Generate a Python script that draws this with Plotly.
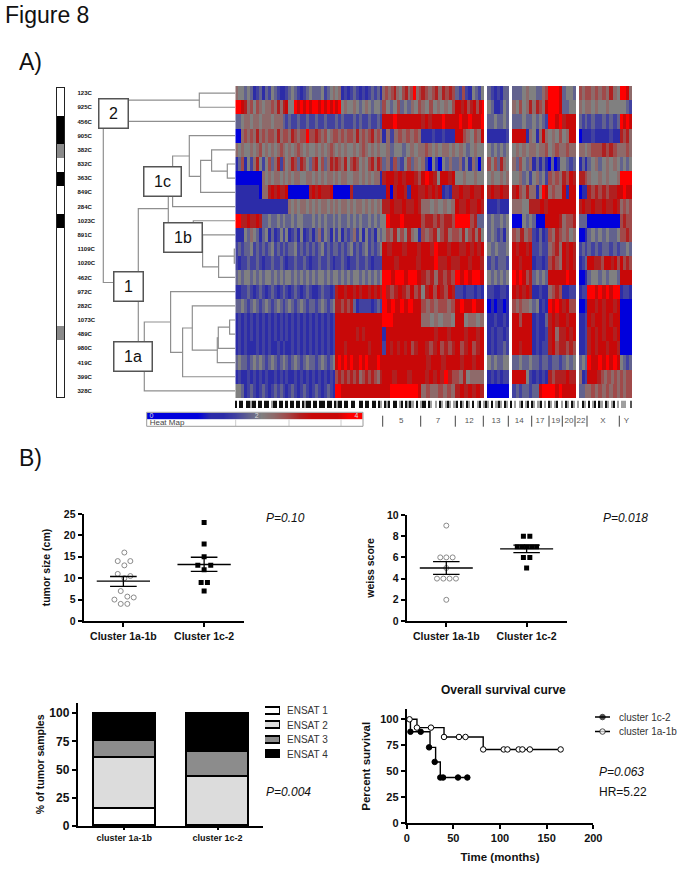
import numpy as np
import plotly.graph_objects as go

W, H = 683, 871
FONT = "Liberation Sans, Arial, sans-serif"

# ---------- heat map data (0 = blue, 4 = grey, 9 = bright red) ----------
samples = ["123C","925C","456C","905C","382C","832C","363C","849C","284C","1023C","891C",
           "1109C","1020C","462C","972C","282C","1073C","489C","980C","419C","399C","328C"]
# genome blocks, in heat-map bins
block_edges = [(235,382),(382,421),(421,455),(455,484),(487,509),(512,532),(532,548),
               (548,562),(562,576),(579,587),(587,620),(620,632)]
heat_rows = [
 "54434312313243211234321234333423454512123212123231|56567546756956|7656757676|326214324|3212133|333454|43356|9998|3443|656|656565754|9985",
 "99875646545565757844989898998989898945445434543443|64346343546|546454546|8878678689|4311243|546457|57658|9998|3344|545|545445444|4432",
 "33455455455545553232232232232232223232223232232232|88898888888|7878889888|898898889|3343343|333433|43432|9989|7888|323|232232323|9898",
 "00565657565665756657656696676564566565665756567565|1525656565|1112112111|88654658|1111112|888815|41585|4546|4588|011|121111211|7675",
 "54544545645454565454565454454545654545445456545454|4534434545|5654545545|45434544|4343434|454545|54556|4565|5655|554|566676765|5565",
 "13614257424635726457637643674635767657467645467576|35263246354|5204204353|352415304|6463754|536435|13131|03014|4323|131|345345454|3434",
 "00000000054545545454554455454545545455445545454551|7887878876|898748878|44544544|4544545|445342|45342|6565|7687|776|544545445|9999",
 "11111111055787877800000007878777800000071111111111|18078871887|7878781217|78778778|7877877|786575|51598|5655|8188|011|767676778|8988",
 "11111111111111111154545545454554545455454554545454|7787787787|55454545|87787787|1112111|555447|7787|8888|888|787|787787787|5656",
 "99778778733433434334344333434343343433434343343434|49888988888|677676776|99996733|3433434|000434|30008|8887|5667|333|0000000000|6766",
 "11143543134131242412314123135243142413235241423143|46574647541|656746756|657467574|3432314|65756|21312|6576|5645|001|343434334|6676",
 "23233423232342323233423232323423233232342323423234|87887887|88798878|87787878|434334|878878|22322|5675|8787|232|323233232|3343",
 "21223223212232232122322321223223212232122322321222|8878887|88897787|7887887|232332|887888|12212|6765|8787|123|8877688786|8676",
 "34344343434434343443434343434434344343434434343434|998998998|76757676|9898998|4343434|989867|34343|8888|8988|001|344343443|8888",
 "11223212321232123212321232112322127887887878878787|9767876867|478687687|22122121|2211221|878787|11211|5676|1122|122|998989899|1221",
 "33432343234323432343234323323432347767673122221232|989898988|65656656|8988988|0101101|656554|34121|9898|7866|001|887878878|0000",
 "12121212121212121212121212121212128888888888888888|99988888888|55454554|8845545|1121121|886888|12113|7878|8788|112|878878788|0000",
 "12121212121212121212121212121212128888888787888888|18888888888|88878878|8878878|1212212|888888|12112|7857|7878|112|787878878|0000",
 "12121112121211212112121212121212128887888888878888|28787878678|876786767|8678678|1212232|887888|12122|7867|7676|112|787887887|0000",
 "34332343432343234323432343323432348989898898988898|88888888|8788788|8788788|4343344|334334|33233|2332|3434|343|988989898|4323",
 "12112121212112121211212121212121216767676756767657|88788788|878787976|65745555|1212122|888842|12121|7677|7877|512|8887656565|6566",
 "44312321232123232123212321232123219988888888888888|88999999998|56556565|7878787|0000000|232332|33899|9989|8888|335|565656565|6566",
]
heat_colors = [[0/9,"#0000dc"],[1/9,"#2c2ca8"],[2/9,"#4242a0"],[3/9,"#62628e"],[4/9,"#808080"],
               [5/9,"#8e6a6a"],[6/9,"#a04a4a"],[7/9,"#b02020"],[8/9,"#c80808"],[1,"#ff0000"]]

# ---------- dendrogram: (child, child, distance); leaves are 0..21, nodes continue from 22 ----------
dendro_merges = [(0,1,36),(22,2,121),(5,6,8),(4,24,23.7),(25,7,34.7),(3,26,46),(27,8,62.7),
                 (11,12,1),(29,13,16.7),(10,30,32.7),(9,31,42),(28,32,67),(16,17,5.7),(34,18,17),
                 (35,19,18),(15,36,43),(37,20,52.7),(14,38,64.7),(39,21,91),(33,40,97),(23,41,132)]
box_labels = ["2","1c","1b","1","1a"]
box_dist = [121.6,73.3,52.8,106.6,102.1]
box_row = [1.45,6.22,10.18,13.65,18.56]
box_w = [28,36,37,28,37]
box_h = [28,28,28,28,28]

ensat_strip = [0,0,2,2,1,0,2,0,0,2,0,0,0,0,0,0,0,1,0,0,0,0]
band_strip = ("0300300200300300320030030300300302003003000300302003003003300300300"
              "3023020300320302023032003023230232023203023023032032023032023023032"
              "3203203023203230232032302302323023032030230232032322331")
color_levels = [0,0,0,0,0,1,1,2,3,4,5,6,7,8,8,8,9,9]
colorbar_ticks = [235.7,289,341]
chrom_labels = ["5","7","12","13","14","17","19","20","22","X","Y"]
chrom_centres = [401.3,438,469.3,496,519.3,540,555.7,569,581,603,626.3]
chrom_bounds = [382.7,420.7,455.3,483.3,508.3,531.7,549,562.3,575,587,619.3]

# ---------- tumour size ----------
cluster_names = ["Cluster 1a-1b","Cluster 1c-2"]
size_a_x = [0.012,-0.07,0.086,0.012,-0.07,0.086,0.012,-0.033,0.049,0.128,-0.111,-0.033,0.049]
size_a_y = [16,14,14,13,11,10.5,10,7,5.7,5.5,5,4,4]
size_b_x = [1,1,1,0.922,1.082,1,0.963,1.041,1]
size_b_y = [23,18,15,13,13,12,9,9,7]
size_mean = [9.3,13.2]
size_low = [8.1,11.6]
size_high = [10.4,14.9]
# ---------- Weiss score ----------
weiss_a_x = [0,-0.075,0,0.079,-0.116,-0.037,0.041,0.12,0,0]
weiss_a_y = [9,6,6,6,4,4,4,4,5,2]
weiss_b_x = [0.96,1.04,0.884,0.946,1,1.062,1.124,0.96,1.04,1]
weiss_b_y = [8,8,7,7,7,7,7,6,6,5]
weiss_mean = [5.0,6.8]
weiss_low = [4.4,6.45]
weiss_high = [5.6,7.15]
# ---------- ENSAT stacked bars ----------
stack_groups = ["cluster 1a-1b","cluster 1c-2"]
ensat_names = ["ENSAT 1","ENSAT 2","ENSAT 3","ENSAT 4"]
ensat_values = [[15,0],[46,44],[15,22],[24,34]]
ensat_colors = ["#ffffff","#dcdcdc","#8c8c8c","#000000"]
# ---------- survival ----------
surv_names = ["cluster 1c-2","cluster 1a-1b"]
c1_step_t = [0,4,25,31,36,65]
c1_step_s = [100,88,73,59,44,44]
c1_mark_t = [4,15,24,30,36,39,55,65]
c1_mark_s = [88,88,73,59,44,44,44,44]
a1_step_t = [0,11,40,82,165]
a1_step_s = [100,92,83,71,71]
a1_mark_t = [3,11,26,40,56,63,82,104,108,120,124,132,165]
a1_mark_s = [100,92,92,83,83,83,71,71,71,71,71,71,71]

# ---------- build heat matrix ----------
def row_values(text):
    out = []
    blocks = text.split("|")
    for i, (a, b) in enumerate(block_edges):
        s = blocks[i]
        n = b - a
        idx = (np.arange(n) * len(s) / n).astype(int)
        out.append([int(s[j]) for j in idx])
    return out

x_bins = np.arange(235, 632) + 0.5
z = []
for r in heat_rows:
    parts = row_values(r)
    line = [None] * len(x_bins)
    for (a, b), vals in zip(block_edges, parts):
        for k, v in zip(range(a, b), vals):
            line[k - 235] = v
    z.append(line)

fig = go.Figure()

def xd(a, b): return [a / W, b / W]
def yd(a, b): return [1 - b / H, 1 - a / H]
def hidden(**kw): return dict(visible=False, fixedrange=True, **kw)

lay = {}
# heat map
fig.add_trace(go.Heatmap(z=z, x=x_bins, y=list(range(22)), zmin=0, zmax=9, colorscale=heat_colors,
                         showscale=False, xaxis="x", yaxis="y", hoverongaps=False))
lay["xaxis"] = hidden(domain=xd(235.3, 632), range=[235, 632], anchor="y")
lay["yaxis"] = hidden(domain=yd(86, 398), range=[21.5, -0.5], anchor="x")

# dendrogram
pos = {i: i for i in range(22)}
hgt = {i: 0 for i in range(22)}
dx, dy = [], []
for n, (a, b, d) in enumerate(dendro_merges):
    nid = 22 + n
    pos[nid] = (pos[a] + pos[b]) / 2
    hgt[nid] = d
    dx += [hgt[a], d, d, hgt[b], None]
    dy += [pos[a], pos[a], pos[b], pos[b], None]
fig.add_trace(go.Scatter(x=dx, y=dy, mode="lines", line=dict(color="#8f8f8f", width=1.2),
                         xaxis="x2", yaxis="y2", showlegend=False))
lay["xaxis2"] = hidden(domain=xd(95, 235.3), range=[140.3, 0], anchor="y2")
lay["yaxis2"] = dict(domain=yd(86, 398), range=[21.5, -0.5], anchor="free", position=76.5 / W, side="right",
                     tickmode="array", tickvals=list(range(22)), ticktext=samples,
                     tickfont=dict(family=FONT, size=6, color="#111", weight="bold"), ticks="", showgrid=False,
                     zeroline=False, showline=False, fixedrange=True)

# ENSAT strip
fig.add_trace(go.Heatmap(z=[[v] for v in ensat_strip], zmin=0, zmax=2, x=[0], y=list(range(22)),
                         colorscale=[[0, "#ffffff"], [0.5, "#8a8a8a"], [1, "#000000"]], showscale=False,
                         xaxis="x3", yaxis="y3"))
lay["xaxis3"] = dict(domain=xd(56.5, 64), range=[-0.5, 0.5], anchor="y3", showline=True, mirror=True,
                     linecolor="#222", linewidth=1, showticklabels=False, ticks="", showgrid=False, zeroline=False)
lay["yaxis3"] = dict(domain=yd(88.3, 396.7), range=[21.5, -0.5], anchor="x3", showline=True, mirror=True,
                     linecolor="#222", linewidth=1, showticklabels=False, ticks="", showgrid=False, zeroline=False)

# band strip
band_vals = [int(c) for c in band_strip]
fig.add_trace(go.Heatmap(z=[band_vals], zmin=0, zmax=3, showscale=False,
                         colorscale=[[0, "#101010"], [0.33, "#555555"], [0.67, "#a0a0a0"], [1, "#ffffff"]],
                         xaxis="x4", yaxis="y4"))
lay["xaxis4"] = hidden(domain=xd(235, 632), range=[-0.5, len(band_vals) - 0.5], anchor="y4")
lay["yaxis4"] = hidden(domain=yd(400.5, 408), range=[-0.5, 0.5], anchor="x4")

# colour bar
fig.add_trace(go.Heatmap(z=[color_levels], zmin=0, zmax=9, colorscale=heat_colors, showscale=False,
                         zsmooth="best", xaxis="x5", yaxis="y5"))
lay["xaxis5"] = hidden(domain=xd(147, 362.5), range=[0, len(color_levels) - 1], anchor="y5")
lay["yaxis5"] = hidden(domain=yd(412.7, 419.3), range=[-0.5, 0.5], anchor="x5")

# chromosome ticks / labels + colour-bar ticks share a px-like genome axis
lay["xaxis6"] = hidden(domain=[0, 1], range=[0, W], anchor="y6")
lay["yaxis6"] = hidden(domain=[0, 1], range=[H, 0], anchor="x6")
tx, ty = [], []
for b in chrom_bounds:
    tx += [b, b, None]; ty += [415.7, 426.7, None]
fig.add_trace(go.Scatter(x=tx, y=ty, mode="lines", line=dict(color="#444", width=1), xaxis="x6", yaxis="y6",
                         showlegend=False))
fig.add_trace(go.Scatter(x=chrom_centres, y=[420.5] * len(chrom_centres), text=chrom_labels, mode="text",
                         textfont=dict(family=FONT, size=8, color="#555"), xaxis="x6", yaxis="y6", showlegend=False))
tx, ty = [], []
for b in colorbar_ticks:
    tx += [b, b, None]; ty += [419.5, 426, None]
fig.add_trace(go.Scatter(x=tx, y=ty, mode="lines", line=dict(color="#ccc", width=1), xaxis="x6", yaxis="y6",
                         showlegend=False))
fig.add_trace(go.Scatter(x=[146.7, 363, 363, 146.7, 146.7], y=[412.3, 412.3, 426.3, 426.3, 412.3], mode="lines",
                         line=dict(color="#9a9a9a", width=1), xaxis="x6", yaxis="y6", showlegend=False))
fig.add_trace(go.Scatter(x=[151.5, 256.7, 356.5], y=[416, 416, 416], text=["0", "2", "4"], mode="text",
                         textfont=dict(family=FONT, size=7, color="#dddddd"), xaxis="x6", yaxis="y6", showlegend=False))
fig.add_trace(go.Scatter(x=[167], y=[423], text=["Heat Map"], mode="text",
                         textfont=dict(family=FONT, size=8, color="#444"), xaxis="x6", yaxis="y6", showlegend=False))

AX = dict(showline=True, linecolor="black", linewidth=1.8, ticks="outside", ticklen=4, tickwidth=1.8,
          tickcolor="black", showgrid=False, zeroline=False, fixedrange=True)

def dot_panel(nx, ny, ax, ay, bx, by, mean, low, high):
    fig.add_trace(go.Scatter(x=ax, y=ay, mode="markers", xaxis=nx, yaxis=ny, showlegend=False,
                             marker=dict(symbol="circle", size=5, color="white", line=dict(color="#8a8a8a", width=1))))
    fig.add_trace(go.Scatter(x=bx, y=by, mode="markers", xaxis=nx, yaxis=ny, showlegend=False,
                             marker=dict(symbol="square", size=5, color="black")))
    lx, ly = [], []
    for i in range(2):
        lx += [i - .33, i + .33, None, i - .165, i + .165, None, i - .165, i + .165, None, i, i, None]
        ly += [mean[i], mean[i], None, low[i], low[i], None, high[i], high[i], None, low[i], high[i], None]
    fig.add_trace(go.Scatter(x=lx, y=ly, mode="lines", line=dict(color="black", width=1.3), xaxis=nx, yaxis=ny,
                             showlegend=False))

# tumour size
dot_panel("x7", "y7", size_a_x, size_a_y, size_b_x, size_b_y, size_mean, size_low, size_high)
lay["xaxis7"] = dict(AX, domain=xd(83.5, 244), range=[-0.494, 1.494], anchor="y7", tickmode="array", tickvals=[0, 1],
                     ticktext=cluster_names, tickfont=dict(family=FONT, size=10.5, color="#111", weight="bold"))
lay["yaxis7"] = dict(AX, domain=yd(514, 621), range=[0, 25], anchor="x7", tickvals=[0, 5, 10, 15, 20, 25],
                     tickfont=dict(family=FONT, size=10.5, color="#111", weight="bold"),
                     title=dict(text="tumor size (cm)", standoff=11, font=dict(family=FONT, size=10.5, color="#111", weight="bold")))
# Weiss
dot_panel("x8", "y8", weiss_a_x, weiss_a_y, weiss_b_x, weiss_b_y, weiss_mean, weiss_low, weiss_high)
lay["xaxis8"] = dict(AX, domain=xd(406.7, 566.7), range=[-0.493, 1.499], anchor="y8", tickmode="array", tickvals=[0, 1],
                     ticktext=cluster_names, tickfont=dict(family=FONT, size=10.5, color="#111", weight="bold"))
lay["yaxis8"] = dict(AX, domain=yd(515, 621), range=[0, 10], anchor="x8", tickvals=[0, 2, 4, 6, 8, 10],
                     tickfont=dict(family=FONT, size=10.5, color="#111", weight="bold"),
                     title=dict(text="weiss score", standoff=10, font=dict(family=FONT, size=10.5, color="#111", weight="bold")))
# stacked
for name, vals, col in zip(ensat_names, ensat_values, ensat_colors):
    fig.add_trace(go.Bar(x=[0, 1], y=vals, name=name, marker=dict(color=col, line=dict(color="black", width=1.5)),
                         width=0.665, xaxis="x9", yaxis="y9", showlegend=False))
lay["xaxis9"] = dict(AX, domain=xd(77.7, 263), range=[-0.5, 1.488], anchor="y9", tickmode="array", tickvals=[0, 1],
                     ticklen=2, ticktext=stack_groups, tickfont=dict(family=FONT, size=9, color="#111", weight="bold"))
lay["yaxis9"] = dict(AX, domain=yd(702.7, 826), range=[0, 109.4], anchor="x9", tickvals=[0, 25, 50, 75, 100],
                     tickfont=dict(family=FONT, size=12, color="#111", weight="bold"),
                     title=dict(text="% of tumor samples", standoff=3, font=dict(family=FONT, size=10.5, color="#111", weight="bold")))
# survival
fig.add_trace(go.Scatter(x=c1_step_t, y=c1_step_s, mode="lines", line=dict(color="black", width=1.4, shape="hv"),
                         xaxis="x10", yaxis="y10", showlegend=False))
fig.add_trace(go.Scatter(x=a1_step_t, y=a1_step_s, mode="lines", line=dict(color="black", width=1.4, shape="hv"),
                         xaxis="x10", yaxis="y10", showlegend=False))
fig.add_trace(go.Scatter(x=c1_mark_t, y=c1_mark_s, mode="markers", xaxis="x10", yaxis="y10", showlegend=False,
                         marker=dict(size=5.5, color="black", line=dict(color="black", width=1))))
fig.add_trace(go.Scatter(x=a1_mark_t, y=a1_mark_s, mode="markers", xaxis="x10", yaxis="y10", showlegend=False,
                         marker=dict(size=5.5, color="white", line=dict(color="black", width=1))))
lay["xaxis10"] = dict(AX, domain=xd(406.7, 593.3), range=[0, 200], anchor="y10", tickvals=[0, 50, 100, 150, 200],
                      tickfont=dict(family=FONT, size=11, color="#111", weight="bold"),
                      title=dict(text="Time (months)", standoff=10, font=dict(family=FONT, size=11.5, color="#111", weight="bold")))
lay["yaxis10"] = dict(AX, domain=yd(709.3, 823.3), range=[0, 109.6], anchor="x10", tickvals=[0, 25, 50, 75, 100],
                      tickfont=dict(family=FONT, size=11, color="#111", weight="bold"),
                      title=dict(text="Percent survival", standoff=7, font=dict(family=FONT, size=11.5, color="#111", weight="bold")))

# ENSAT key
fig.add_trace(go.Bar(x=[1, 1, 1, 1], y=ensat_names, orientation="h", xaxis="x11", yaxis="y11", showlegend=False,
                     marker=dict(color=ensat_colors, line=dict(color="black", width=1.3)), width=0.5))
lay["xaxis11"] = hidden(domain=xd(265, 280), range=[0, 1], anchor="y11")
lay["yaxis11"] = dict(domain=yd(703.5, 761.5), range=[3.5, -0.5], anchor="x11", side="right", type="category",
                      categoryorder="array", categoryarray=ensat_names, ticks="outside", ticklen=4,
                      tickcolor="rgba(0,0,0,0)", showline=False, showgrid=False, zeroline=False,
                      tickfont=dict(family=FONT, size=10, color="#333"))
# survival key
for i, (name, col) in enumerate(zip(surv_names, ["black", "white"])):
    fig.add_trace(go.Scatter(x=[0, 0.5, 1], y=[name] * 3, mode="lines+markers", xaxis="x12", yaxis="y12", showlegend=False,
                             line=dict(color="black", width=1.4),
                             marker=dict(size=[0, 5.5, 0], color=col, line=dict(color="black", width=1))))
lay["xaxis12"] = hidden(domain=xd(595, 610), range=[0, 1], anchor="y12")
lay["yaxis12"] = dict(domain=yd(709.8, 738.8), range=[1.5, -0.5], anchor="x12", side="right", type="category",
                      categoryorder="array", categoryarray=surv_names, ticks="outside", ticklen=6,
                      tickcolor="rgba(0,0,0,0)", showline=False, showgrid=False, zeroline=False,
                      tickfont=dict(family=FONT, size=10, color="#333"))

# text
anns = []
def txt(s, px, py, size, anchor="left", color="#111", italic=False, bold=False):
    anns.append(dict(text=s, x=px / W, y=1 - py / H, xref="paper", yref="paper", xanchor=anchor, yanchor="middle",
                     showarrow=False, font=dict(family=FONT, size=size, color=color,
                                                style="italic" if italic else "normal",
                                                weight="bold" if bold else "normal")))
txt("Figure 8", 3, 15, 23)
txt("A)", 17, 62, 23)
txt("B)", 17, 458, 23)
txt("P=0.10", 264, 518, 12, italic=True)
txt("P=0.018", 601, 518, 12, italic=True)
txt("P=0.004", 264, 792, 12, italic=True)
txt("P=0.063", 597, 772, 12, italic=True)
txt("HR=5.22", 597, 792, 12)
txt("Overall survival curve", 503, 690, 12, anchor="center", bold=True)
for lab, d, r, w, h in zip(box_labels, box_dist, box_row, box_w, box_h):
    anns.append(dict(text=lab, x=d, y=r, xref="x2", yref="y2", showarrow=False, width=w, height=h,
                     bgcolor="white", bordercolor="#555", borderwidth=1.5, borderpad=0,
                     font=dict(family=FONT, size=16, color="#111")))

fig.update_layout(width=W, height=H, margin=dict(l=0, r=0, t=0, b=0), paper_bgcolor="white", plot_bgcolor="rgba(0,0,0,0)",
                  barmode="stack", bargap=0, showlegend=False, annotations=anns, **lay)
fig.update_xaxes(automargin=False)
fig.update_yaxes(automargin=False)
fig.write_html("out.html", config={"displayModeBar": False},
               post_script="document.body.style.margin='0';document.body.style.overflow='hidden';")
